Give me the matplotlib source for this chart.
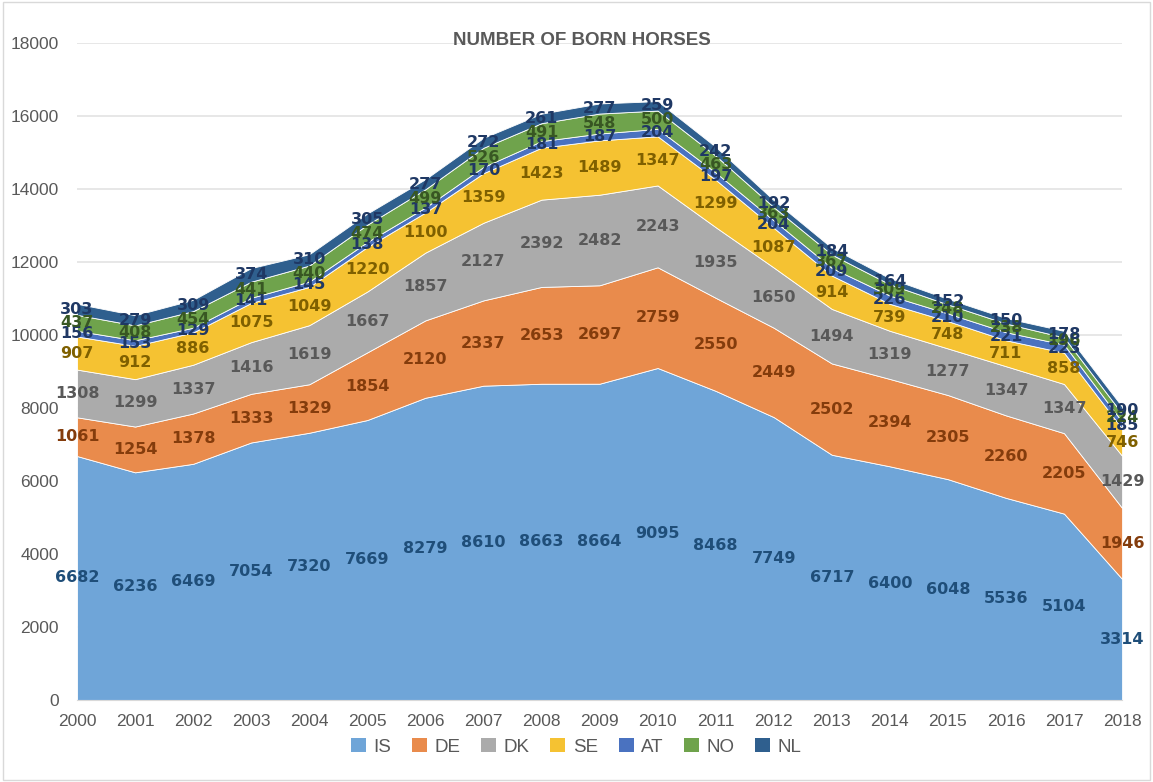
import matplotlib
matplotlib.use('Agg')
import matplotlib.pyplot as plt
import numpy as np
from matplotlib.patches import Rectangle

years = list(range(2000, 2019))
series_names = ["IS", "DE", "DK", "SE", "AT", "NO", "NL"]

IS = [6682, 6236, 6469, 7054, 7320, 7669, 8279, 8610, 8663, 8664, 9095, 8468, 7749, 6717, 6400, 6048, 5536, 5104, 3314]
DE = [1061, 1254, 1378, 1333, 1329, 1854, 2120, 2337, 2653, 2697, 2759, 2550, 2449, 2502, 2394, 2305, 2260, 2205, 1946]
DK = [1308, 1299, 1337, 1416, 1619, 1667, 1857, 2127, 2392, 2482, 2243, 1935, 1650, 1494, 1319, 1277, 1347, 1347, 1429]
SE = [907, 912, 886, 1075, 1049, 1220, 1100, 1359, 1423, 1489, 1347, 1299, 1087, 914, 739, 748, 711, 858, 746]
AT = [156, 153, 129, 141, 145, 138, 137, 170, 181, 187, 204, 197, 204, 209, 226, 210, 221, 223, 185]
NO = [437, 408, 454, 441, 440, 474, 499, 526, 491, 548, 500, 463, 363, 367, 309, 248, 238, 196, 224]
NL = [303, 279, 309, 374, 310, 305, 277, 272, 261, 277, 259, 242, 192, 184, 164, 152, 150, 178, 190]

data = [IS, DE, DK, SE, AT, NO, NL]

fill_colors = ["#6FA5D8", "#E98B4C", "#ABABAB", "#F5C232", "#4A72C0", "#6FA34C", "#2F5F8E"]
label_colors = ["#1F4E79", "#843C0C", "#595959", "#7F6000", "#203864", "#385723", "#1F3864"]

label_font = ["Liberation Sans Narrow", "DejaVu Sans"]
text_gray = "#595959"

fig = plt.figure(figsize=(11.53, 7.82), dpi=100)
ax = fig.add_axes([0.0668, 0.105, 0.9064, 0.840])

ax.stackplot(years, data, colors=fill_colors, edgecolor="white", linewidth=0.6, zorder=2)

# data labels at the middle of each band
bottom = np.zeros(len(years))
for vals, col in zip(data, label_colors):
    vals = np.array(vals)
    mids = bottom + vals / 2
    for x, m, v in zip(years, mids, vals):
        ax.text(x, m, str(v), ha="center", va="center", fontsize=11.5,
                fontweight="bold", color=col, family=label_font,
                clip_on=False, zorder=5)
    bottom = bottom + vals

ax.set_xlim(2000, 2018)
ax.set_ylim(0, 18000)
ax.set_xticks(years)
ax.set_yticks(range(0, 18001, 2000))
ax.tick_params(axis="both", length=0, labelsize=12.5, labelcolor=text_gray)
ax.tick_params(axis="y", pad=13)
ax.tick_params(axis="x", pad=10)
for lab in ax.get_xticklabels() + ax.get_yticklabels():
    lab.set_family("Liberation Sans")

ax.grid(axis="y", color="#E3E3E3", linewidth=1.2, zorder=0)
ax.set_axisbelow(True)
for s in ["top", "right", "left"]:
    ax.spines[s].set_visible(False)
ax.spines["bottom"].set_color("#D9D9D9")
ax.spines["bottom"].set_zorder(3)

fig.text(0.505, 0.948, "NUMBER OF BORN HORSES", ha="center", va="center",
         fontsize=13.5, fontweight="bold", color=text_gray, family="Liberation Sans")

handles = [Rectangle((0, 0), 1, 1, facecolor=c, edgecolor="none") for c in fill_colors]
fig.legend(handles, series_names, loc="center", bbox_to_anchor=(0.5, 0.045),
           ncol=7, frameon=False, handlelength=0.8, handleheight=0.8,
           handletextpad=0.4, columnspacing=1.1,
           prop={"family": "Liberation Sans", "size": 13.5}, labelcolor=text_gray)

fig.patches.append(Rectangle((0.003, 0.003), 0.994, 0.994, transform=fig.transFigure,
                             fill=False, edgecolor="#D9D9D9", linewidth=1))

fig.savefig("out.png", dpi=100)
